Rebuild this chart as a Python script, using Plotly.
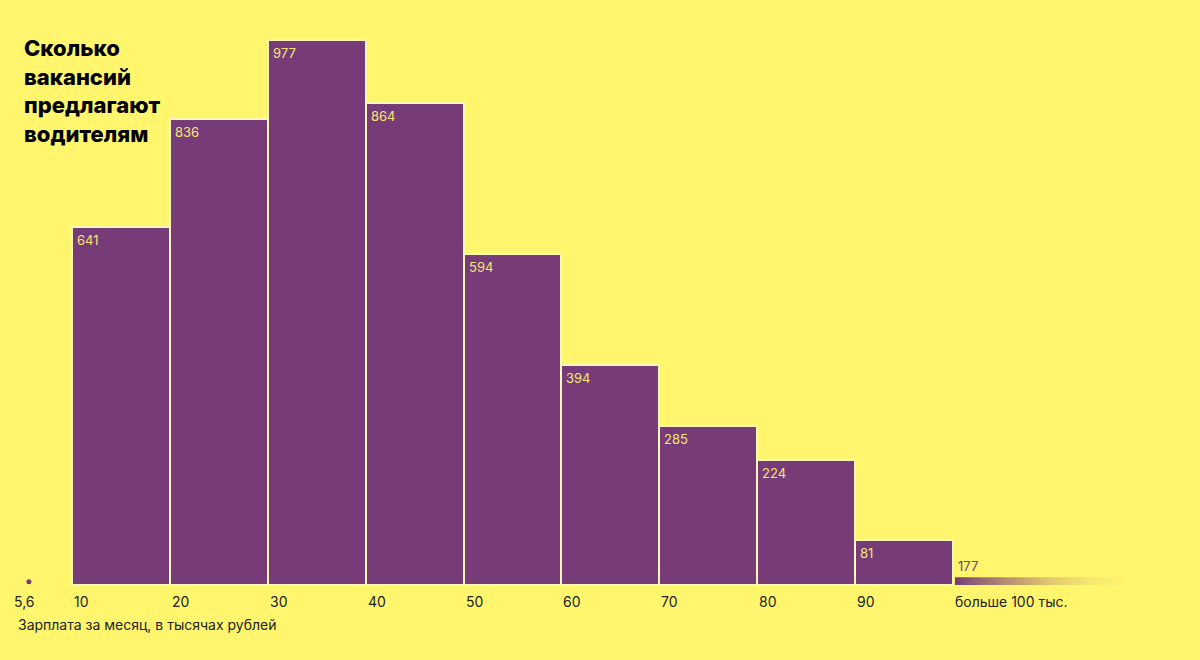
import plotly.graph_objects as go

# ---- data ----
bin_starts = [10, 20, 30, 40, 50, 60, 70, 80, 90]
counts = [641, 836, 977, 864, 594, 394, 285, 224, 81]
over_start = 100
over_count = 177
min_salary = 5.6
tick_vals = [5.6, 10, 20, 30, 40, 50, 60, 70, 80, 90, 100]
tick_text = ["5,6", "10", "20", "30", "40", "50", "60", "70", "80", "90", "больше 100 тыс."]
title_lines = ["Сколько", "вакансий", "предлагают", "водителям"]
x_title = "Зарплата за месяц, в тысячах рублей"

BG = "#fff66e"
PURPLE = "#773b77"
LABEL = "#f7e873"
FONT = "Inter, Roboto, sans-serif"
BIN_W = 10

fig = go.Figure()

fig.add_trace(go.Bar(
    x=[s + BIN_W / 2 for s in bin_starts], y=counts, width=BIN_W,
    marker=dict(color=PURPLE, line=dict(color="#fff9b8", width=2)),
    hoverinfo="x+y", showlegend=False,
))

# gradient strip for "over 100"
strip_len = 19.5
strip_h = 14
fig.add_trace(go.Scatter(
    x=[over_start + 0.2, over_start + strip_len, over_start + strip_len, over_start + 0.2, over_start + 0.2],
    y=[0, 0, strip_h, strip_h, 0],
    mode="lines", line=dict(width=0), fill="toself",
    fillgradient=dict(type="horizontal",
                      colorscale=[[0, PURPLE], [0.5, "rgba(215,180,110,0.75)"], [1, "rgba(255,246,110,0)"]]),
    hoverinfo="skip", showlegend=False,
))

# min salary dot
fig.add_trace(go.Scatter(
    x=[min_salary], y=[6], mode="markers",
    marker=dict(color=PURPLE, size=5), hoverinfo="skip", showlegend=False,
))

ann = []
for s, c in zip(bin_starts, counts):
    ann.append(dict(x=s, y=c, text=str(c), xanchor="left", yanchor="top",
                    xshift=3, yshift=-3, showarrow=False,
                    font=dict(family=FONT, size=13, color=LABEL)))
ann.append(dict(x=over_start, y=strip_h, text=str(over_count), xanchor="left", yanchor="bottom",
                xshift=3, yshift=1, showarrow=False,
                font=dict(family=FONT, size=13, color=PURPLE)))

for v, t in zip(tick_vals, tick_text):
    ann.append(dict(x=v, y=0, text=t, xanchor="center" if t == "5,6" else "left",
                    yanchor="top", yshift=-6, xshift=-4 if t == "5,6" else 0,
                    showarrow=False,
                    font=dict(family=FONT, size=14, color="#222222")))

ann.append(dict(xref="x domain", yref="y domain", x=16 / 1200, y=1 - 624 / 660,
                xanchor="left", yanchor="middle", text=x_title, showarrow=False,
                font=dict(family=FONT, size=14, color="#222222")))

ann.append(dict(xref="x domain", yref="y domain", x=22 / 1200, y=1 - 33 / 660,
                xanchor="left", yanchor="top", align="left", showarrow=False,
                text="<br>".join(title_lines),
                font=dict(family=FONT, size=22, color="#000000", weight=800)))

px_per_x = (953 - 72) / 90.0
x0 = 10 - 72 / px_per_x
x1 = 10 + (1200 - 72) / px_per_x
px_per_y = (585 - 40) / 977.0
y1 = 585 / px_per_y
y0 = -(660 - 585) / px_per_y

fig.update_layout(
    width=1200, height=660,
    margin=dict(l=0, r=0, t=0, b=0, pad=0),
    paper_bgcolor=BG, plot_bgcolor=BG,
    bargap=0,
    xaxis=dict(range=[x0, x1], visible=False, fixedrange=True),
    yaxis=dict(range=[y0, y1], visible=False, fixedrange=True),
    annotations=ann,
)

fig.write_html("out.html", config={"displayModeBar": False},
               post_script="document.body.style.margin='0';document.body.style.overflow='hidden';document.body.style.background='%s';" % BG)
